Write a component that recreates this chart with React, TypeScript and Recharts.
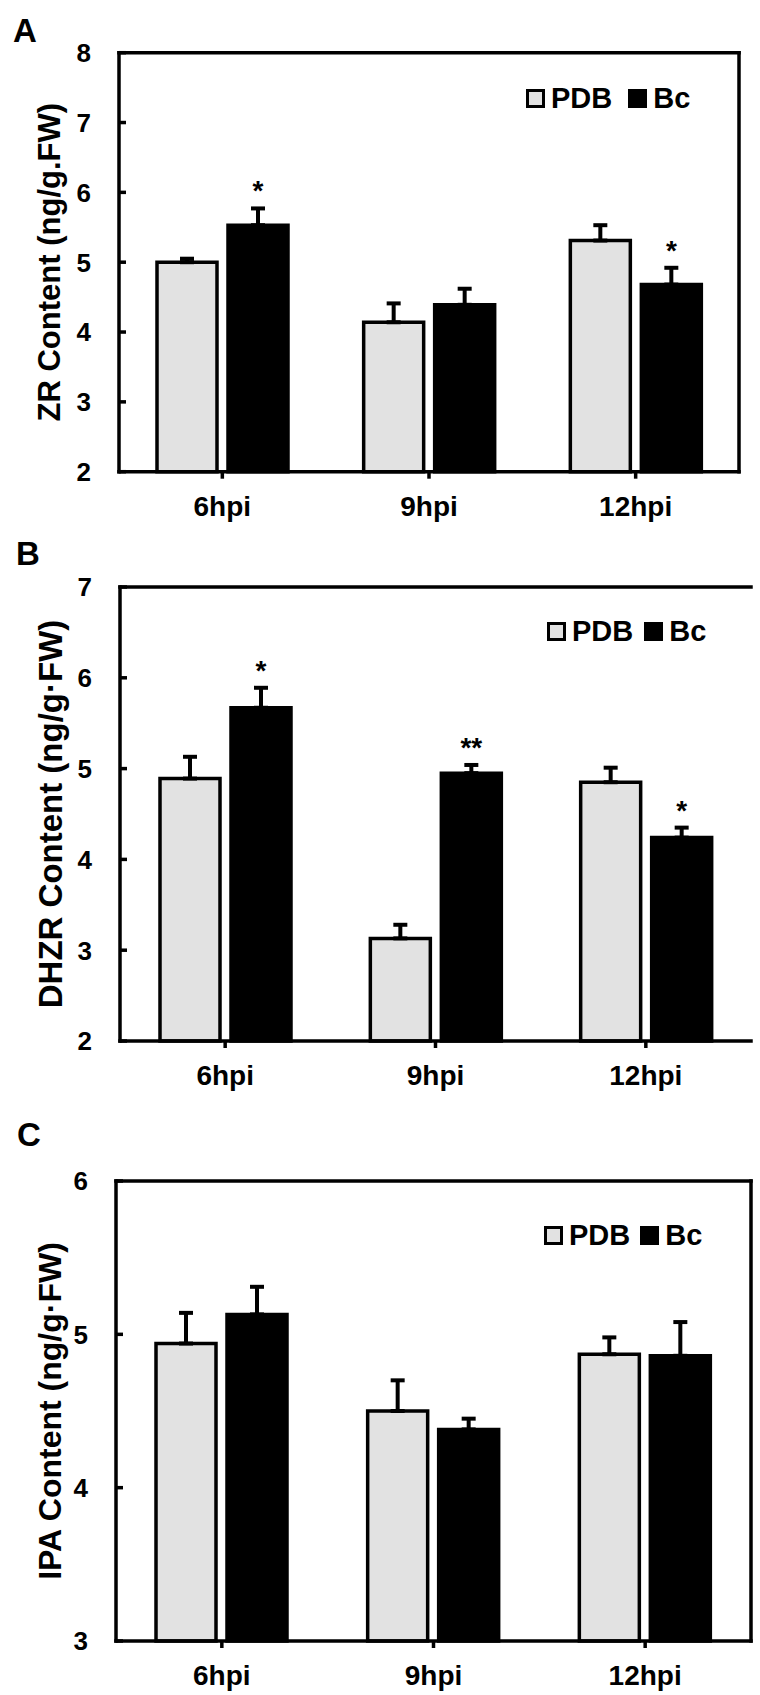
import { BarChart, Bar, XAxis, YAxis, ErrorBar, LabelList, Legend, ReferenceLine } from "recharts";

const timePoints = ["6hpi", "9hpi", "12hpi"];
const seriesNames = ["PDB", "Bc"];

// A: ZR
const zrPdb = [5.0, 4.14, 5.31];
const zrPdbErr = [0.05, 0.27, 0.22];
const zrBc = [5.53, 4.39, 4.68];
const zrBcErr = [0.24, 0.23, 0.24];
const zrSig = ["*", "", "*"];
const zrTicks = [2, 3, 4, 5, 6, 7, 8];

// B: DHZR
const dhzrPdb = [4.89, 3.13, 4.85];
const dhzrPdbErr = [0.24, 0.15, 0.16];
const dhzrBc = [5.67, 4.95, 4.24];
const dhzrBcErr = [0.22, 0.09, 0.11];
const dhzrSig = ["*", "**", "*"];
const dhzrTicks = [2, 3, 4, 5, 6, 7];

// C: IPA
const ipaPdb = [4.94, 4.5, 4.87];
const ipaPdbErr = [0.2, 0.2, 0.11];
const ipaBc = [5.13, 4.38, 4.86];
const ipaBcErr = [0.18, 0.07, 0.22];
const ipaSig = ["", "", ""];
const ipaTicks = [3, 4, 5, 6];

const FONT = '"Liberation Sans", Arial, Helvetica, sans-serif';
const PDB_FILL = "#e2e2e2";
const BC_FILL = "#000";
const LINE = 3.5;

function buildRows(pdb: number[], pdbErr: number[], bc: number[], bcErr: number[], sig: string[]) {
  return timePoints.map((t, i) => ({
    time: t,
    pdb: pdb[i],
    pdbErr: [0, pdbErr[i]],
    bc: bc[i],
    bcErr: [0, bcErr[i]],
    bcUp: bcErr[i],
    sig: sig[i],
  }));
}

function YTick(props: any) {
  const { x, y, payload, gap } = props;
  return (
    <g>
      <line x1={x + gap} x2={x + gap + 7} y1={y} y2={y} stroke="#000" strokeWidth={LINE} />
      <text x={x} y={y} dy="0.36em" textAnchor="end" fontFamily={FONT} fontWeight="bold" fontSize={26} fill="#000">
        {payload.value}
      </text>
    </g>
  );
}

function makeSigLabel(rows: any[], yMin: number) {
  return (p: any) => {
    const row = p.index != null ? rows[p.index] : rows.find((r) => r.bc === p.value);
    if (!row || !row.sig) return null;
    const vb = p.viewBox || p;
    const perUnit = vb.height / (row.bc - yMin);
    const errTop = vb.y - row.bcUp * perUnit;
    const cx = vb.x + vb.width / 2;
    return (
      <text x={cx} y={errTop - 24 + 16} textAnchor="middle" fontFamily={FONT} fontWeight="bold" fontSize={28} fill="#000">
        {row.sig}
      </text>
    );
  };
}

function LegendContent({ gap }: { gap: number }) {
  const fills = [PDB_FILL, BC_FILL];
  return (
    <div style={{ display: "flex", alignItems: "center", fontFamily: FONT, fontWeight: "bold", fontSize: 29, lineHeight: 1, color: "#000" }}>
      {seriesNames.map((name, i) => (
        <div key={name} style={{ display: "flex", alignItems: "center", marginRight: i === 0 ? gap : 0 }}>
          <span style={{ display: "inline-block", width: 13, height: 13, border: "3px solid #000", background: fills[i], marginRight: 6 }} />
          <span>{name}</span>
        </div>
      ))}
    </div>
  );
}

interface PanelProps {
  rows: any[];
  ticks: number[];
  title: string;
  titleSize: number;
  top: number;
  height: number;
  margin: { top: number; right: number; bottom: number; left: number };
  yWidth: number;
  legend: { left: number; top: number; gap: number };
}

function Panel({ rows, ticks, title, titleSize, top, height, margin, yWidth, legend }: PanelProps) {
  const domain = [ticks[0], ticks[ticks.length - 1]];
  const axisLine = { stroke: "#000", strokeWidth: LINE, strokeLinecap: "square" as const };
  return (
    <div style={{ position: "absolute", left: 0, top }}>
      <BarChart width={760} height={height} data={rows} margin={margin} barSize={60} barGap={11}>
        <XAxis
          dataKey="time"
          interval={0}
          height={50}
          axisLine={axisLine}
          tickLine={{ stroke: "#000", strokeWidth: LINE }}
          tickSize={7}
          tickMargin={17}
          tick={{ fill: "#000", fontSize: 28, fontWeight: "bold", fontFamily: FONT }}
        />
        <YAxis
          type="number"
          domain={domain}
          ticks={ticks}
          interval={0}
          width={yWidth}
          axisLine={axisLine}
          tickLine={false}
          tickSize={0}
          tickMargin={28}
          tick={(p: any) => <YTick {...p} gap={28} />}
          label={(p: any) => {
            const vb = p.viewBox;
            const cx = 50;
            const cy = vb.y + vb.height / 2;
            return (
              <text
                x={cx}
                y={cy}
                transform={`rotate(-90 ${cx} ${cy})`}
                textAnchor="middle"
                dominantBaseline="central"
                fontFamily={FONT}
                fontWeight="bold"
                fontSize={titleSize}
                fill="#000"
              >
                {title}
              </text>
            );
          }}
        />
        <ReferenceLine y={domain[1]} stroke="#000" strokeWidth={LINE} strokeLinecap="square" />
        <ReferenceLine x={timePoints[timePoints.length - 1]} position="end" stroke="#000" strokeWidth={LINE} strokeLinecap="square" />
        <Legend
          layout="horizontal"
          align="center"
          verticalAlign="middle"
          wrapperStyle={{ left: legend.left, top: legend.top, width: "auto" }}
          content={() => <LegendContent gap={legend.gap} />}
        />
        <Bar dataKey="pdb" name={seriesNames[0]} fill={PDB_FILL} stroke="#000" strokeWidth={LINE} isAnimationActive={false}>
          <ErrorBar dataKey="pdbErr" direction="y" width={7} stroke="#000" strokeWidth={4} isAnimationActive={false} />
        </Bar>
        <Bar dataKey="bc" name={seriesNames[1]} fill={BC_FILL} stroke="#000" strokeWidth={LINE} isAnimationActive={false}>
          <ErrorBar dataKey="bcErr" direction="y" width={7} stroke="#000" strokeWidth={4} isAnimationActive={false} />
          <LabelList dataKey="bc" content={makeSigLabel(rows, domain[0])} />
        </Bar>
      </BarChart>
    </div>
  );
}

const letterStyle = { position: "absolute" as const, fontFamily: FONT, fontWeight: "bold" as const, fontSize: 33, lineHeight: 1, color: "#000" };

export default function App() {
  return (
    <div style={{ position: "absolute", left: 0, top: 0, width: 760, height: 1695, background: "#fff" }}>
      <Panel
        rows={buildRows(zrPdb, zrPdbErr, zrBc, zrBcErr, zrSig)}
        ticks={zrTicks}
        title="ZR Content (ng/g.FW)"
        titleSize={31}
        top={0}
        height={530}
        margin={{ top: 52.7, right: 21, bottom: 8.3, left: 0 }}
        yWidth={119}
        legend={{ left: 526, top: 83.5, gap: 16 }}
      />
      <Panel
        rows={buildRows(dhzrPdb, dhzrPdbErr, dhzrBc, dhzrBcErr, dhzrSig)}
        ticks={dhzrTicks}
        title="DHZR Content (ng/g·FW)"
        titleSize={33}
        top={530}
        height={580}
        margin={{ top: 57, right: 9, bottom: 19, left: 0 }}
        yWidth={120}
        legend={{ left: 547, top: 87, gap: 11 }}
      />
      <Panel
        rows={buildRows(ipaPdb, ipaPdbErr, ipaBc, ipaBcErr, ipaSig)}
        ticks={ipaTicks}
        title="IPA Content (ng/g·FW)"
        titleSize={32}
        top={1110}
        height={585}
        margin={{ top: 71, right: 9, bottom: 4, left: 0 }}
        yWidth={116}
        legend={{ left: 544, top: 110.5, gap: 10 }}
      />
      <div style={{ ...letterStyle, left: 13, top: 14 }}>A</div>
      <div style={{ ...letterStyle, left: 16, top: 537 }}>B</div>
      <div style={{ ...letterStyle, left: 17, top: 1118 }}>C</div>
    </div>
  );
}
